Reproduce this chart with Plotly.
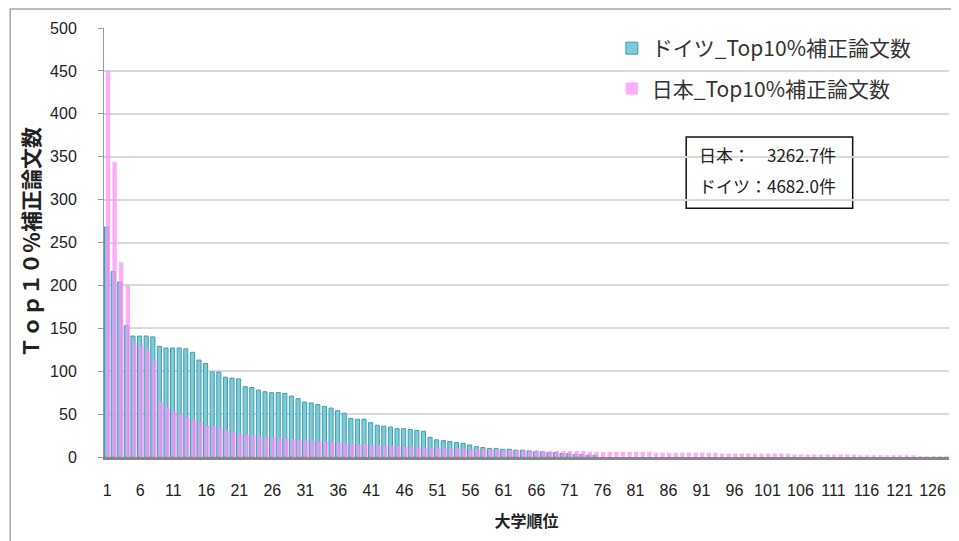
import plotly.graph_objects as go

# university rank 1..128
ranks = list(range(1, 129))

# Top10% adjusted paper counts (Germany ends around rank 75)
germany = [
    268, 216, 204, 153, 141, 141, 141, 140, 129, 127, 127, 127, 126, 122, 113, 109,
    99, 99, 93, 92, 91, 82, 81, 78, 76, 75, 75, 74, 71, 68, 64, 63, 61, 59, 57, 54,
    51, 45, 44, 44, 40, 37, 36, 35, 33, 33, 32, 31, 30, 23, 20, 19, 18, 17, 16, 14, 12,
    11, 10, 10, 9, 9, 8, 8, 7, 6, 6, 5, 5, 4, 4, 3, 3, 2, 2,
]
japan = [
    450, 344, 227, 200, 134, 130, 125, 112, 64, 58, 54, 50, 46, 44, 41, 37,
    36, 34, 31, 29, 27, 26, 25, 24, 23, 23, 22, 21, 21, 20, 19, 19, 18, 18, 17, 17, 16,
    16, 15, 15, 14, 14, 13, 13, 13, 12, 12, 12, 11, 11, 11, 10, 10, 10, 10, 9, 9,
    9, 9, 9, 8, 8, 8, 8, 8, 8, 7, 7, 7, 7, 7, 7, 7, 6, 6, 6, 6,
    6, 6, 6, 6, 6, 6, 5, 5, 5, 5, 5, 5, 5, 5, 5, 5, 4, 4, 4, 4,
    4, 4, 4, 4, 4, 4, 4, 3, 3, 3, 3, 3, 3, 3, 3, 3, 3, 2, 2, 2,
    2, 2, 2, 2, 2, 2, 1, 1, 1, 1, 1,
]
germany = germany + [None] * (len(ranks) - len(germany))

x_ticks = list(range(1, 129, 5))
total_lines = ["日本：　3262.7件", "ドイツ：4682.0件"]

JP_FONT = "Noto Sans CJK JP"
NUM_FONT = "Liberation Sans, Arial, sans-serif"

fig = go.Figure()

fig.add_trace(go.Bar(
    x=ranks, y=germany,
    name="ドイツ_Top10%補正論文数",
    legendgroup="de",
    width=0.62, offset=-0.42,
    marker=dict(color="#7fcbd7", line=dict(color="#3d9fb1", width=1)),
))
fig.add_trace(go.Bar(
    x=ranks, y=japan,
    name="日本_Top10%補正論文数",
    legendgroup="jp",
    width=0.66, offset=-0.22,
    marker=dict(color="rgba(255,140,250,0.72)", line=dict(width=0)),
))

# white legend box over the top gridlines, outer chart frame
fig.add_shape(type="rect", xref="paper", yref="paper",
              x0=0.576, x1=1.0, y0=0.86, y1=1.0,
              fillcolor="white", line=dict(width=0), layer="below")
fig.add_shape(type="rect", xref="paper", yref="paper",
              x0=-0.111, x1=1.03, y0=-0.25, y1=1.044,
              line=dict(color="#a6a6a6", width=1.5))

# totals box
fig.add_shape(type="rect", xref="paper", yref="paper",
              x0=0.689, x1=0.886, y0=0.580, y1=0.746,
              fillcolor="white", line=dict(color="#111", width=1.5), layer="below")
for line_text, ypos in zip(total_lines, [0.705, 0.632]):
    fig.add_annotation(
        xref="paper", yref="paper", x=0.702, y=ypos,
        xanchor="left", yanchor="middle",
        text=line_text, showarrow=False, align="left",
        font=dict(family=JP_FONT, size=17, color="#222"),
    )

# the page body adds an 8px offset, so the figure is 8px smaller than the window
fig.update_layout(
    width=951, height=533,
    margin=dict(l=96, r=10, t=20, b=84),
    paper_bgcolor="white", plot_bgcolor="white",
    barmode="overlay",
    font=dict(family=JP_FONT, color="#333"),
    legend=dict(
        x=0.601, y=1.0, xanchor="left", yanchor="top",
        bgcolor="rgba(0,0,0,0)", font=dict(family=JP_FONT, size=21, color="#333"),
        tracegroupgap=10, traceorder="grouped", itemwidth=30,
    ),
    showlegend=True,
    xaxis=dict(
        range=[0.5, 128.5], tickvals=x_ticks, ticktext=[str(t) for t in x_ticks],
        showgrid=False, zeroline=False, showline=True, automargin=False,
        linecolor="#888888", linewidth=3, ticks="",
        tickfont=dict(family=NUM_FONT, size=16, color="#222"),
        ticklabelstandoff=17,
        title=dict(text="<b>大学順位</b>", standoff=18,
                   font=dict(family=JP_FONT, size=16, color="#222")),
    ),
    yaxis=dict(
        range=[0, 500], dtick=50, automargin=False,
        showgrid=True, gridcolor="#d9d9d9", gridwidth=1.5,
        zeroline=False, showline=True, linecolor="#999999", linewidth=1,
        ticks="outside", ticklen=5, tickcolor="#999999",
        tickfont=dict(family=NUM_FONT, size=16, color="#222"),
        ticklabelstandoff=18,
        title=dict(text="<b>Ｔｏｐ１０％補正論文数</b>", standoff=4,
                   font=dict(family=JP_FONT, size=21, color="#222")),
    ),
)

fig.write_html("out.html")
